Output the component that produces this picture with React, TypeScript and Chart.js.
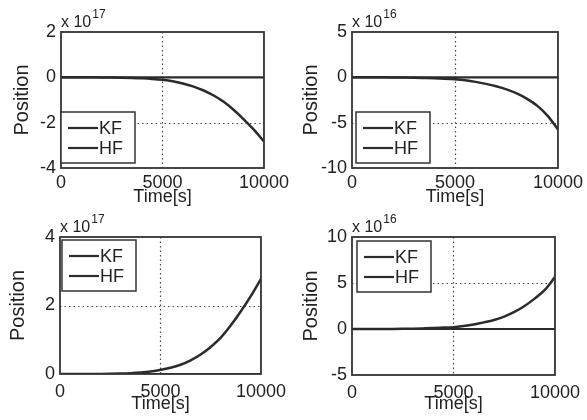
import React, { useEffect, useRef } from 'react';
import { Chart, registerables } from 'chart.js';

Chart.register(...registerables);

// ---------- data ----------
const timeS = [0, 500, 1000, 1500, 2000, 2500, 3000, 3500, 4000, 4500, 5000, 5500, 6000, 6500, 7000, 7500, 8000, 8500, 9000, 9500, 10000];

const kfPosition = [0, 0, 0, 0, 0, 0, 0, 0, 0, 0, 0, 0, 0, 0, 0, 0, 0, 0, 0, 0, 0];

// values in units of 10^17
const hfTopLeft = [0, -0.0001, -0.0005, -0.0015, -0.0035, -0.007, -0.013, -0.024, -0.042, -0.07, -0.11, -0.17, -0.27, -0.4, -0.57, -0.79, -1.07, -1.43, -1.85, -2.31, -2.83];
// values in units of 10^16
const hfTopRight = [0, -0.0002, -0.001, -0.003, -0.008, -0.018, -0.035, -0.065, -0.1, -0.15, -0.22, -0.33, -0.5, -0.72, -0.99, -1.33, -1.78, -2.38, -3.15, -4.25, -5.75];
// values in units of 10^17
const hfBottomLeft = [0, 0.0001, 0.0005, 0.0015, 0.0035, 0.007, 0.013, 0.024, 0.042, 0.07, 0.12, 0.18, 0.27, 0.4, 0.57, 0.79, 1.06, 1.42, 1.83, 2.28, 2.78];
// values in units of 10^16
const hfBottomRight = [0, 0.0002, 0.001, 0.003, 0.008, 0.018, 0.035, 0.065, 0.1, 0.15, 0.2, 0.33, 0.5, 0.72, 0.98, 1.35, 1.85, 2.5, 3.3, 4.25, 5.65];

const xTickValues = [0, 5000, 10000];
const yTicksTopLeft = [-4, -2, 0, 2];
const yTicksTopRight = [-10, -5, 0, 5];
const yTicksBottomLeft = [0, 2, 4];
const yTicksBottomRight = [-5, 0, 5, 10];
const yExponents = [17, 16, 17, 16];

const seriesLabels = ['KF', 'HF'];
const xAxisTitle = 'Time[s]';
const yAxisTitle = 'Position';

// ---------- styling ----------
const FONT = '"Liberation Sans", Arial, Helvetica, sans-serif';
const INK = '#2b2b2b';
const TEXT = '#222222';

type Panel = {
  left: number; top: number; w: number; h: number;
  area: { l: number; r: number; t: number; b: number };
  hf: number[]; yTicks: number[]; exp: number;
  legend: { x: number; y: number };
  xTickPad: number; xTitlePad: number; yTitlePad: number;
};

const panels: Panel[] = [
  { left: 0, top: 0, w: 293, h: 210, area: { l: 61, r: 268, t: 32, b: 168 }, hf: hfTopLeft, yTicks: yTicksTopLeft, exp: yExponents[0], legend: { x: 61, y: 112 }, xTickPad: 4, xTitlePad: 2, yTitlePad: 10 },
  { left: 293, top: 0, w: 294, h: 210, area: { l: 59, r: 268, t: 32, b: 168 }, hf: hfTopRight, yTicks: yTicksTopRight, exp: yExponents[1], legend: { x: 63, y: 112 }, xTickPad: 4, xTitlePad: 2, yTitlePad: 6 },
  { left: 0, top: 210, w: 293, h: 210, area: { l: 60, r: 267, t: 27, b: 164 }, hf: hfBottomLeft, yTicks: yTicksBottomLeft, exp: yExponents[2], legend: { x: 62, y: 30 }, xTickPad: 7, xTitlePad: 5, yTitlePad: 6 },
  { left: 293, top: 210, w: 294, h: 210, area: { l: 59, r: 266, t: 27, b: 165 }, hf: hfBottomRight, yTicks: yTicksBottomRight, exp: yExponents[3], legend: { x: 64, y: 31 }, xTickPad: 7, xTitlePad: 5, yTitlePad: 6 },
];

const decoPlugin = {
  id: 'matlabDeco',
  beforeDatasetsDraw(chart: any) {
    const { ctx, chartArea: a, scales } = chart;
    const x = scales.x;
    const y = scales.y;
    ctx.save();
    ctx.strokeStyle = '#4a4a4a';
    ctx.lineWidth = 1.2;
    ctx.setLineDash([1.5, 3]);
    for (const t of x.ticks) {
      const px = Math.round(x.getPixelForValue(t.value)) + 0.5;
      if (px <= a.left + 2 || px >= a.right - 2) continue;
      ctx.beginPath();
      ctx.moveTo(px, a.top);
      ctx.lineTo(px, a.bottom);
      ctx.stroke();
    }
    for (const t of y.ticks) {
      const py = Math.round(y.getPixelForValue(t.value)) + 0.5;
      if (py <= a.top + 2 || py >= a.bottom - 2) continue;
      ctx.beginPath();
      ctx.moveTo(a.left, py);
      ctx.lineTo(a.right, py);
      ctx.stroke();
    }
    ctx.restore();
  },
  afterDatasetsDraw(chart: any, _args: any, opts: any) {
    const { ctx, chartArea: a } = chart;
    ctx.save();
    // box
    ctx.strokeStyle = '#333333';
    ctx.lineWidth = 1.8;
    ctx.setLineDash([]);
    ctx.strokeRect(a.left, a.top, a.right - a.left, a.bottom - a.top);

    // exponent label
    ctx.fillStyle = TEXT;
    ctx.textAlign = 'left';
    ctx.textBaseline = 'alphabetic';
    ctx.font = `16px ${FONT}`;
    const base = 'x 10';
    ctx.fillText(base, a.left, a.top - 5);
    const bw = ctx.measureText(base).width;
    ctx.font = `12px ${FONT}`;
    ctx.fillText(String(opts.exp), a.left + bw + 1, a.top - 14);

    // legend
    const lx = opts.legendX;
    const ly = opts.legendY;
    const lw = 74;
    const lh = 51;
    ctx.fillStyle = '#ffffff';
    ctx.fillRect(lx, ly, lw, lh);
    ctx.strokeStyle = '#333333';
    ctx.lineWidth = 1.5;
    ctx.strokeRect(lx, ly, lw, lh);
    const rows = [16, 36];
    chart.data.datasets.forEach((ds: any, i: number) => {
      const ry = ly + rows[i];
      ctx.strokeStyle = ds.borderColor;
      ctx.lineWidth = 2.2;
      ctx.beginPath();
      ctx.moveTo(lx + 7, ry);
      ctx.lineTo(lx + 37, ry);
      ctx.stroke();
      ctx.fillStyle = TEXT;
      ctx.font = `18px ${FONT}`;
      ctx.textBaseline = 'middle';
      ctx.fillText(ds.label, lx + 38, ry + 1);
    });
    ctx.restore();
  },
};

function PanelChart({ p }: { p: Panel }) {
  const ref = useRef<HTMLCanvasElement | null>(null);
  useEffect(() => {
    if (!ref.current) return;
    const yAxisWidth = p.area.l;
    const xAxisHeight = p.h - p.area.b;
    const chart = new Chart(ref.current, {
      type: 'line',
      data: {
        datasets: [
          {
            label: seriesLabels[0],
            data: timeS.map((t, i) => ({ x: t, y: kfPosition[i] })),
            borderColor: INK,
            borderWidth: 2.2,
            pointRadius: 0,
            fill: false,
          },
          {
            label: seriesLabels[1],
            data: timeS.map((t, i) => ({ x: t, y: p.hf[i] })),
            borderColor: INK,
            borderWidth: 2.5,
            pointRadius: 0,
            fill: false,
            cubicInterpolationMode: 'monotone',
          },
        ],
      },
      options: {
        animation: false,
        responsive: false,
        maintainAspectRatio: false,
        events: [],
        layout: {
          autoPadding: false,
          padding: { left: 0, top: p.area.t, right: p.w - p.area.r, bottom: 0 },
        },
        plugins: {
          legend: { display: false },
          tooltip: { enabled: false },
          matlabDeco: { exp: p.exp, legendX: p.legend.x, legendY: p.legend.y },
        } as any,
        scales: {
          x: {
            type: 'linear',
            min: xTickValues[0],
            max: xTickValues[xTickValues.length - 1],
            afterBuildTicks: (s: any) => { s.ticks = xTickValues.map((v) => ({ value: v })); },
            afterFit: (s: any) => { s.height = xAxisHeight; },
            grid: { display: false, drawTicks: false },
            border: { display: false },
            ticks: {
              autoSkip: false, maxRotation: 0, minRotation: 0, padding: p.xTickPad,
              color: TEXT, font: { family: FONT, size: 18 },
              callback: (v: any) => String(v),
            },
            title: {
              display: true, text: xAxisTitle, color: TEXT,
              font: { family: FONT, size: 18 }, padding: { top: 0, bottom: p.xTitlePad },
            },
          },
          y: {
            type: 'linear',
            min: p.yTicks[0],
            max: p.yTicks[p.yTicks.length - 1],
            afterBuildTicks: (s: any) => { s.ticks = p.yTicks.map((v) => ({ value: v })); },
            afterFit: (s: any) => { s.width = yAxisWidth; },
            grid: { display: false, drawTicks: false },
            border: { display: false },
            ticks: {
              autoSkip: false, padding: 5,
              color: TEXT, font: { family: FONT, size: 18 },
              callback: (v: any) => String(v),
            },
            title: {
              display: true, text: yAxisTitle, color: TEXT,
              font: { family: FONT, size: 20 }, padding: { top: p.yTitlePad, bottom: 0 },
            },
          },
        },
      } as any,
      plugins: [decoPlugin as any],
    });
    return () => chart.destroy();
  }, [p]);
  return (
    <canvas
      ref={ref}
      width={p.w}
      height={p.h}
      style={{ position: 'absolute', left: p.left, top: p.top, width: p.w, height: p.h }}
    />
  );
}

export default function App() {
  return (
    <div style={{ position: 'absolute', left: 0, top: 0, width: 587, height: 420, background: '#ffffff' }}>
      {panels.map((p, i) => (
        <PanelChart key={i} p={p} />
      ))}
    </div>
  );
}
